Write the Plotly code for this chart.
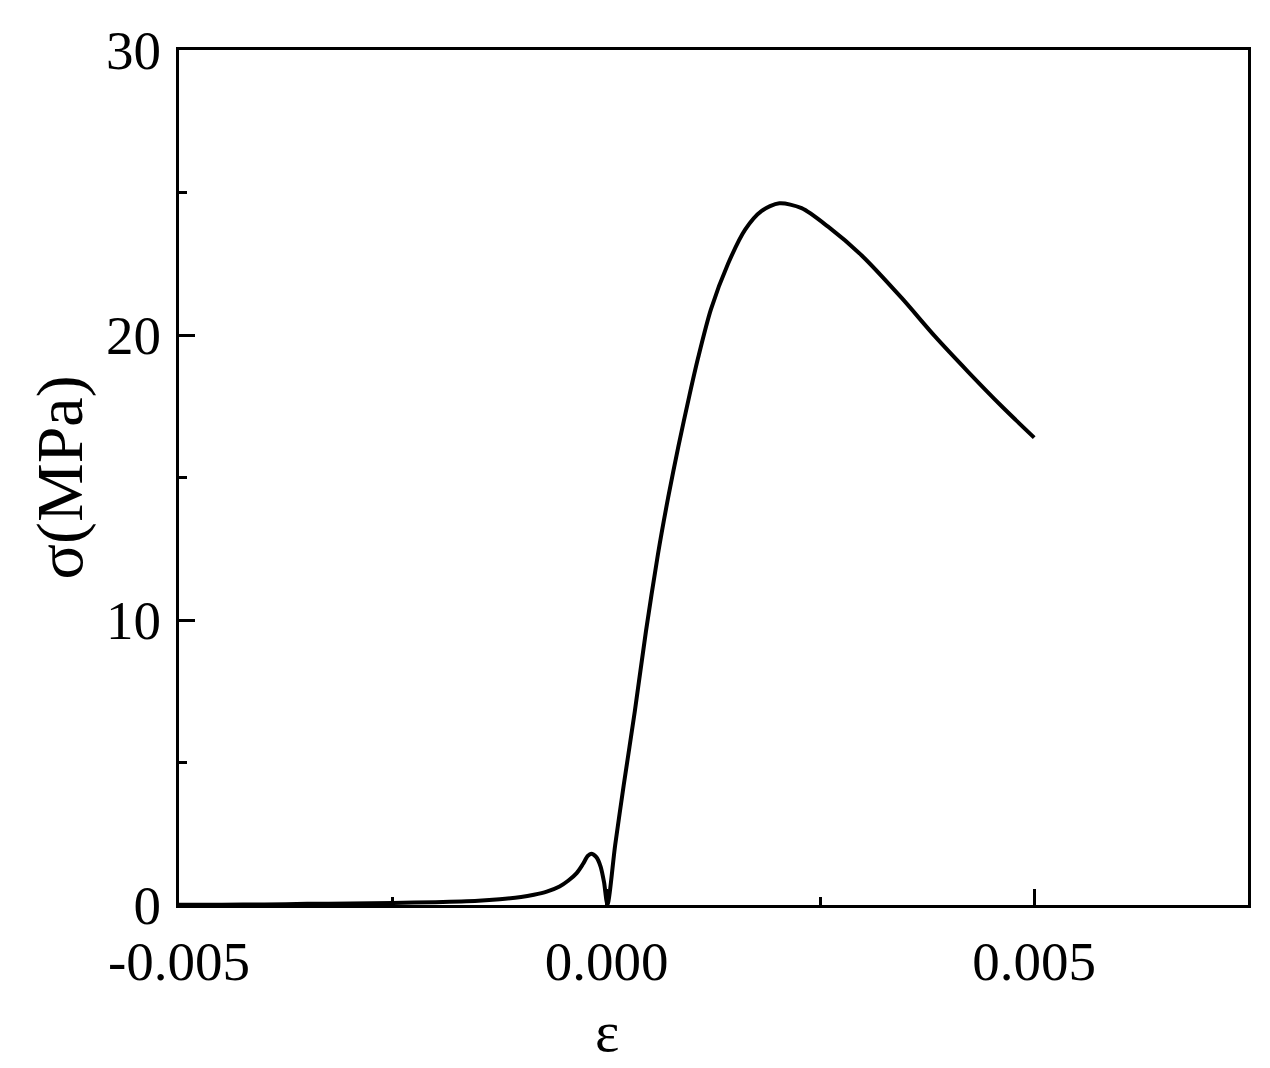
import plotly.graph_objects as go

strain = [-0.005, -0.0045, -0.004, -0.0035, -0.003, -0.0025, -0.002, -0.0015,
          -0.00125, -0.001, -0.00085, -0.0007, -0.00055, -0.00045, -0.00035,
          -0.00028, -0.00022, -0.00018, -0.00012, -0.00007, -0.00003, 0.00001,
          0.0001, 0.0002, 0.00033, 0.00046, 0.0006, 0.00072, 0.00084, 0.00097,
          0.00107, 0.00122, 0.00142, 0.00162, 0.00181, 0.00202, 0.00228,
          0.00259, 0.00298, 0.00345, 0.00384, 0.00423, 0.00462, 0.005]
stress = [0.01, 0.01, 0.02, 0.04, 0.05, 0.07, 0.10, 0.15,
          0.20, 0.28, 0.36, 0.47, 0.65, 0.85, 1.12,
          1.42, 1.72, 1.80, 1.68, 1.35, 0.80, 0.02,
          2.1, 4.2, 6.8, 9.6, 12.3, 14.3, 16.1, 17.9,
          19.2, 20.9, 22.5, 23.7, 24.35, 24.62, 24.45,
          23.8, 22.8, 21.3, 19.95, 18.7, 17.5, 16.4]

x_tickvals = [-0.005, 0.0, 0.005]
x_ticktext = ["-0.005", "0.000", "0.005"]
y_tickvals = [0, 10, 20, 30]
y_ticktext = ["0", "10", "20", "30"]

FONT = "Liberation Serif, Times New Roman, serif"

fig = go.Figure()
fig.add_trace(go.Scatter(
    x=strain, y=stress, mode="lines",
    line=dict(color="black", width=4, shape="spline", smoothing=0.8),
    showlegend=False,
))

fig.update_layout(
    width=1270, height=1068,
    margin=dict(l=171, r=30, t=33, b=171),
    paper_bgcolor="white", plot_bgcolor="white",
    font=dict(family=FONT, color="black", size=55),
)
fig.update_xaxes(
    range=[-0.005, 0.0075],
    tickvals=x_tickvals, ticktext=x_ticktext,
    ticks="inside", ticklen=16, tickwidth=2.5, tickcolor="black",
    minor=dict(dtick=0.0025, tick0=-0.005, ticks="inside", ticklen=8, tickwidth=2.5, tickcolor="black"),
    showline=True, linewidth=3, linecolor="black", mirror=True,
    showgrid=False, zeroline=False,
    tickfont=dict(size=55, family=FONT),
    ticklabelstandoff=6,
)
fig.update_yaxes(
    range=[0, 30],
    tickvals=y_tickvals, ticktext=y_ticktext,
    ticks="inside", ticklen=16, tickwidth=2.5, tickcolor="black",
    minor=dict(dtick=5, tick0=0, ticks="inside", ticklen=8, tickwidth=2.5, tickcolor="black"),
    showline=True, linewidth=3, linecolor="black", mirror=True,
    showgrid=False, zeroline=False,
    tickfont=dict(size=55, family=FONT),
    ticklabelstandoff=4,
    title=dict(text="σ(MPa)", font=dict(size=66, family=FONT), standoff=2),
)
fig.add_annotation(
    text="ε", xref="x", x=0.0, yref="paper", y=0, yshift=-92,
    yanchor="top", showarrow=False, font=dict(size=58, family=FONT, color="black"),
)

fig.write_html("out.html")
